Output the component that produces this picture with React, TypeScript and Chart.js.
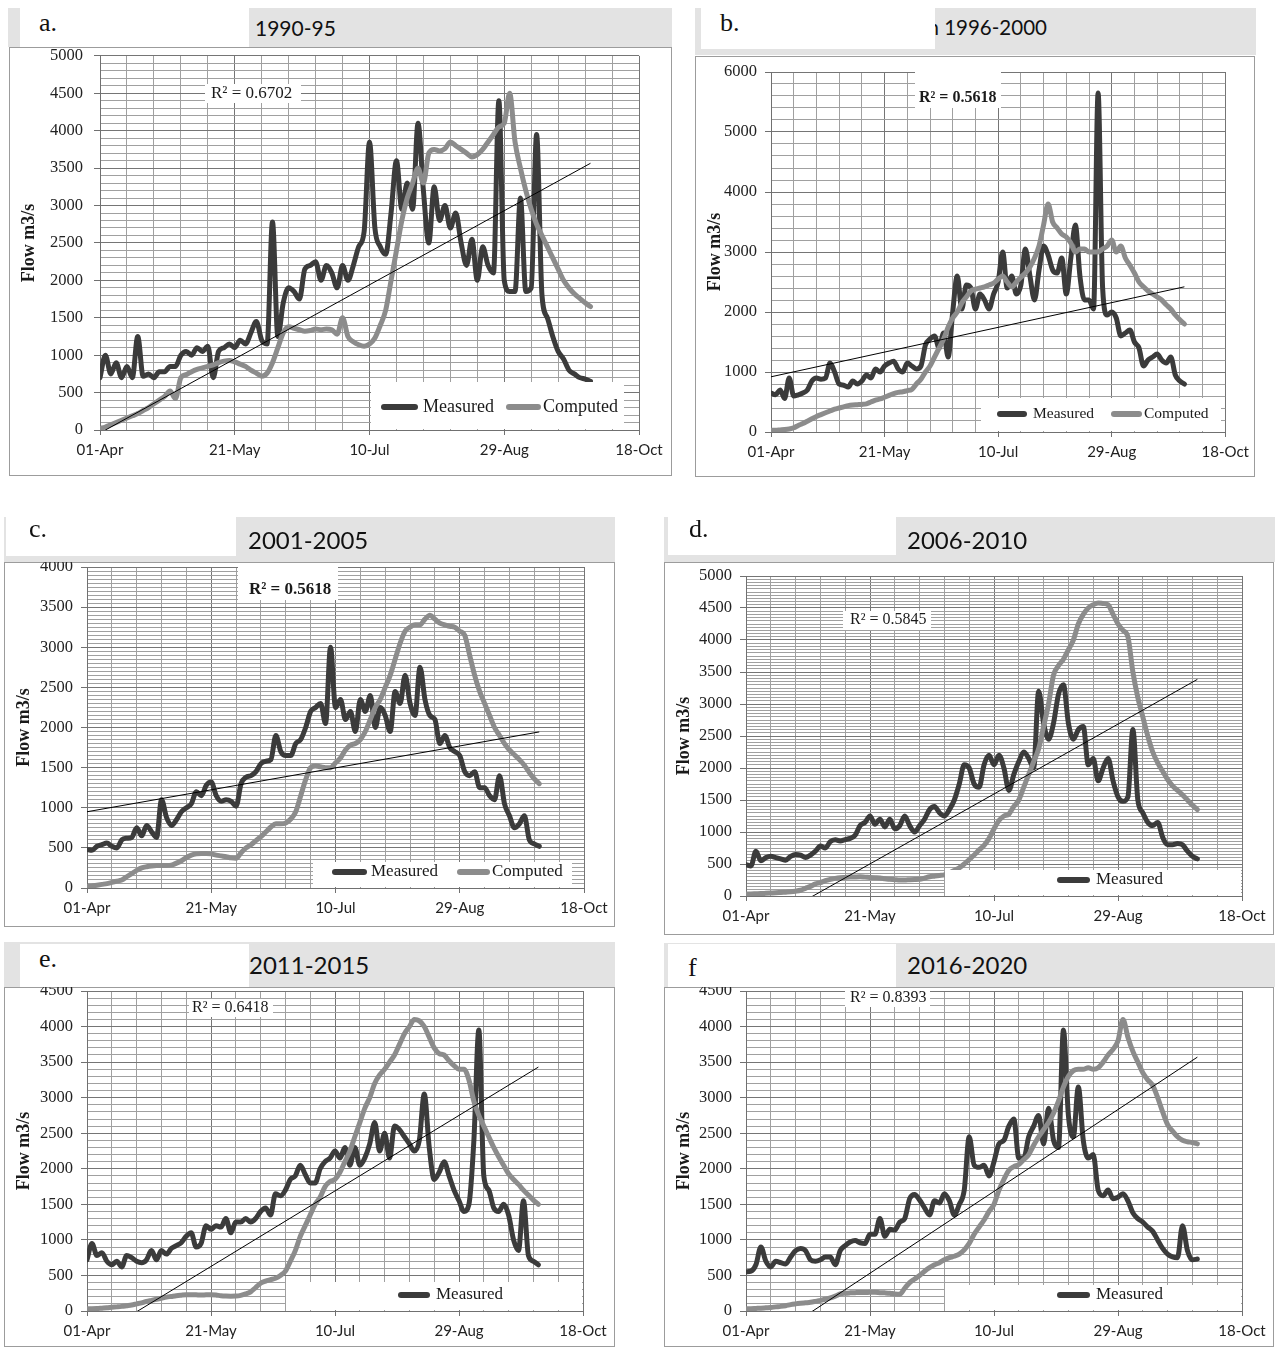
import React, { useEffect, useRef } from "react";
import { Chart, registerables } from "chart.js";

Chart.register(...registerables);

// ---------- data ----------
const DAYS = [
  0, 2, 4, 6, 8, 10, 12, 14, 16, 18,
  20, 22, 24, 26, 28, 30, 32, 34, 36, 38,
  40, 42, 44, 46, 48, 50, 52, 54, 56, 58,
  60, 62, 64, 66, 68, 70, 72, 74, 76, 78,
  80, 82, 84, 86, 88, 90, 92, 94, 96, 98,
  100, 102, 104, 106, 108, 110, 112, 114, 116, 118,
  120, 122, 124, 126, 128, 130, 132, 134, 136, 138,
  140, 142, 144, 146, 148, 150, 152, 154, 156, 158,
  160, 162, 164, 166, 168, 170, 172, 174, 176, 178,
  180, 182,
];
const X_TICK_DAYS = [0, 50, 100, 150, 200];
const X_TICK_LABELS = ["01-Apr", "21-May", "10-Jul", "29-Aug", "18-Oct"];
const TREND_DAYS = [0, 182];
const SERIES_NAMES = ["Measured", "Computed"];
const Y_TITLE = "Flow m3/s";

const MEASURED_A = [
  700, 1000, 750, 900, 700, 850, 700, 1250, 720, 750,
  700, 780, 780, 850, 850, 1000, 1050, 1000, 1100, 1050,
  1120, 700, 1050, 1100, 1150, 1100, 1200, 1150, 1300, 1450,
  1200, 1150, 2780, 1250, 1700, 1900, 1850, 1750, 2150, 2200,
  2250, 2000, 2200, 2100, 1900, 2200, 2000, 2200, 2450, 2650,
  3850, 2700, 2450, 2350, 2900, 3600, 2950, 3300, 2950, 4100,
  3200, 2500, 3250, 2800, 3000, 2700, 2900, 2500, 2200, 2550,
  2000, 2450, 2200, 2100, 4400, 2000, 1850, 1850, 3100, 1850,
  1900, 3950, 1800, 1500, 1250, 1050, 950, 800, 750, 700,
  680, 650,
];
const COMPUTED_A = [
  20, 40, 70, 100, 130, 160, 190, 220, 260, 300,
  350, 400, 450, 520, 420, 700, 740, 780, 810, 830,
  850, 870, 900, 920, 930, 910, 880, 850, 800, 760,
  720, 760, 900, 1100, 1300, 1380, 1360, 1340, 1320, 1330,
  1350, 1340, 1350, 1340, 1280, 1500, 1250, 1180, 1140, 1120,
  1150, 1230, 1400, 1600, 2000, 2400, 2800, 3100, 3300, 3500,
  3300, 3700, 3750, 3730, 3760, 3850, 3800, 3750, 3700, 3650,
  3680, 3750, 3850, 3950, 4050, 4100, 4500, 3850, 3500, 3200,
  2950, 2750, 2600, 2450, 2300, 2150, 2000, 1900, 1820, 1760,
  1700, 1650,
];
const TREND_A = [-40, 3565];

const MEASURED_B = [
  650, 620, 700, 560, 900, 600, 620, 650, 700, 850,
  900, 880, 900, 1150, 1000, 800, 780, 750, 850, 800,
  850, 950, 900, 1050, 1000, 1100, 1150, 1180, 1050, 1000,
  1150, 1100, 1050, 1100, 1450, 1550, 1600, 1400, 1650, 1250,
  2000, 2600, 2050, 2450, 2400, 2050, 2300, 2200, 2050, 2300,
  2500, 3000, 2400, 2600, 2300, 2450, 3050, 2600, 2200, 2700,
  3100, 2950, 2700, 2650, 2900, 2300, 2900, 3450, 2600, 2200,
  2200, 2050, 5650, 2400, 1950, 2000, 1900, 1600, 1650, 1700,
  1500, 1400, 1100, 1200, 1250, 1300, 1200, 1150, 1250, 950,
  850, 800,
];
const COMPUTED_B = [
  30, 30, 35, 40, 50, 70, 110, 140, 180, 220,
  260, 290, 320, 350, 380, 400, 420, 440, 450, 455,
  460, 470, 500, 530, 550, 580, 610, 640, 660, 670,
  690, 710, 800, 880, 1000, 1100, 1250, 1400, 1550, 1750,
  1900, 2000, 2150, 2250, 2350, 2380, 2400, 2420, 2450, 2480,
  2550, 2600, 2500, 2420, 2500, 2580, 2650, 2750, 2900, 3100,
  3450, 3800, 3500, 3400, 3300, 3250, 3150, 3000, 3050, 3050,
  3000, 3000, 3000, 3050, 3100, 3200, 3000, 3100, 2900, 2780,
  2650, 2500, 2420, 2350, 2300, 2250, 2200, 2120, 2050, 1950,
  1870, 1800,
];
const TREND_B = [920, 2420];

const MEASURED_C = [
  480, 470, 520, 540, 560, 520, 500, 600, 620, 630,
  750, 650, 780, 700, 630, 1100, 880, 780, 850, 950,
  1000, 1050, 1200, 1150, 1280, 1320, 1150, 1080, 1100, 1080,
  1020, 1300, 1380, 1400, 1450, 1550, 1580, 1600, 1900, 1700,
  1650, 1650, 1800, 1850, 2000, 2200, 2250, 2300, 2050, 3000,
  2250, 2350, 2100, 2200, 1950, 2350, 2200, 2400, 2000, 2250,
  2150, 1950, 2450, 2300, 2650, 2300, 2150, 2750, 2350, 2150,
  2100, 1800, 1900, 1750, 1700, 1650, 1450, 1400, 1450, 1250,
  1250, 1150, 1100, 1400, 1050, 900, 750, 800, 900, 600,
  550, 520,
];
const COMPUTED_C = [
  20, 25, 35, 45, 55, 70, 85, 100, 140, 180,
  220, 250, 265, 275, 280, 280, 280, 285, 310, 340,
  380, 410, 425, 430, 430, 425, 410, 400, 390, 375,
  370, 440, 500, 540, 590, 640, 700, 760, 800, 800,
  810, 860, 950, 1150, 1350, 1500, 1520, 1510, 1500, 1500,
  1560, 1620, 1720, 1780, 1800, 1850, 1950, 2100, 2250, 2350,
  2500, 2650, 2850, 3050, 3200, 3250, 3280, 3280, 3350, 3400,
  3350, 3300, 3280, 3260, 3250, 3200, 3150, 2900, 2650, 2450,
  2300, 2150, 2000, 1900, 1800, 1720, 1660, 1600, 1530, 1440,
  1360, 1300,
];
const TREND_C = [950, 1945];

const MEASURED_D = [
  490, 470, 700, 550, 600, 620, 600, 580, 560, 620,
  650, 640, 600, 640, 700, 780, 750, 850, 880, 860,
  880, 900, 950, 1100, 1150, 1250, 1120, 1200, 1080, 1200,
  1050, 1100, 1250, 1100, 1000, 1100, 1200, 1350, 1400, 1300,
  1250, 1350, 1500, 1750, 2050, 2000, 1750, 1700, 2050, 2200,
  2050, 2200, 2000, 1650, 1900, 2100, 2250, 2150, 2000, 3200,
  2700, 2450, 2700, 3150, 3300, 2700, 2450, 2600, 2650, 2050,
  2150, 1800, 2000, 2150, 1800, 1550, 1480, 1550, 2600, 1500,
  1300, 1150, 1100, 1150, 920, 800, 800, 820, 800, 700,
  620, 580,
];
const COMPUTED_D = [
  30, 32, 35, 38, 42, 46, 50, 55, 60, 65,
  75, 90, 120, 150, 190, 210, 240, 260, 275, 285,
  290, 295, 298, 300, 295, 290, 285, 280, 270, 260,
  255, 250, 250, 255, 258, 260, 280, 300, 310, 320,
  330, 360, 400, 440, 500, 570, 640, 720, 790, 900,
  1050, 1180, 1250, 1280, 1400, 1500, 1700, 1900, 2100, 2300,
  2650, 3000, 3450, 3600, 3700, 3850, 4000, 4250, 4400, 4500,
  4550, 4580, 4570, 4550, 4400, 4250, 4150, 4050, 3500, 3100,
  2800, 2500, 2250, 2080, 1950, 1820, 1720, 1650, 1580, 1500,
  1420, 1350,
];
const TREND_D = [-590, 3385];

const MEASURED_E = [
  720, 950, 780, 820, 700, 650, 700, 620, 780, 750,
  700, 680, 720, 850, 720, 850, 800, 880, 920, 960,
  1050, 1100, 900, 950, 1200, 1150, 1200, 1180, 1300, 1100,
  1250, 1250, 1300, 1250, 1300, 1400, 1450, 1350, 1650, 1620,
  1700, 1850, 1900, 2050, 1920, 1800, 1800, 2000, 2100, 2150,
  2250, 2150, 2300, 2050, 2300, 2050, 2150, 2350, 2650, 2250,
  2500, 2150, 2600, 2550, 2450, 2350, 2250, 2400, 3050, 2300,
  1850, 1950, 2100, 1900, 1700, 1550, 1400, 1500, 2400, 3950,
  1900, 1700, 1450, 1400, 1500, 1350, 1000, 850, 1550, 780,
  700, 650,
];
const COMPUTED_E = [
  30, 32, 35, 40, 45, 52, 58, 65, 75, 85,
  100, 115, 135, 150, 165, 180, 195, 205, 215, 222,
  228, 230, 228, 225, 228, 230, 225, 215, 210, 208,
  210, 220, 240, 270, 330, 390, 420, 440, 460, 500,
  560, 700, 850, 1050, 1200, 1350, 1500, 1600, 1750, 1820,
  1850, 1950, 2100, 2250, 2450, 2650, 2850, 3000, 3200, 3320,
  3400, 3500, 3600, 3750, 3900, 4000, 4100, 4080, 4000, 3850,
  3700, 3620, 3600, 3520, 3450, 3400, 3400, 3250, 2950, 2750,
  2600, 2450, 2300, 2170, 2050, 1930, 1850, 1780, 1700, 1630,
  1560, 1500,
];
const TREND_E = [-435, 3430];

const MEASURED_F = [
  550, 560, 650, 900, 700, 620, 700, 680, 660, 760,
  850, 880, 850, 720, 700, 720, 760, 760, 650, 850,
  920, 970, 990, 960, 950, 1080, 1080, 1300, 1050, 1150,
  1140, 1250, 1300, 1580, 1640, 1560, 1450, 1350, 1550, 1520,
  1650, 1550, 1350, 1500, 1700, 2450, 2050, 2020, 2050, 1900,
  2100, 2350, 2400, 2600, 2700, 2150, 2150, 2450, 2600, 2750,
  2350, 2850, 2400, 2300, 3950, 2750, 2450, 3150, 2400, 2150,
  2200, 1700, 1620, 1700, 1580, 1600, 1650, 1550, 1380, 1300,
  1250, 1180, 1120, 1000, 880, 800, 760, 750, 1200, 850,
  720, 730,
];
const COMPUTED_F = [
  30, 32, 36, 40, 45, 50, 58, 65, 75, 90,
  100, 108, 115, 122, 135, 150, 165, 185, 210, 240,
  250, 255, 258, 260, 260, 262, 262, 258, 255, 250,
  240, 235, 320, 400, 450, 500, 560, 610, 650, 680,
  720, 750, 770, 800, 860, 950, 1080, 1180, 1280, 1400,
  1500, 1700, 1850, 1980, 2030, 2060, 2130, 2200, 2330, 2450,
  2550, 2650, 2780, 2950, 3150, 3300, 3380, 3400, 3400, 3420,
  3400, 3420, 3500, 3600, 3680, 3800, 4100, 3850, 3650, 3500,
  3350, 3250, 3170, 3000, 2800, 2620, 2530, 2450, 2400, 2380,
  2370, 2350,
];
const TREND_F = [-620, 3570];

// ---------- styling ----------
const MEASURED_COLOR = "#3b3b3b";
const COMPUTED_COLOR = "#8c8c8c";
const GRID_MINOR = "#a0a0a0";
const GRID_MAJOR = "#757575";
const AXIS_COLOR = "#707070";
const BAR_COLOR = "#e3e3e3";
const TOP_PAD = 20;
const SERIF = "'Liberation Serif', 'Times New Roman', serif";
const SANS = "Lato, 'Open Sans', sans-serif";

const PANELS = [
  {
    key: "a", label: "a.", labelXY: [39, 10], title: "1990-95", titleXY: [255, 17], titleSize: 21,
    bar: [8, 8, 672, 47], white: [20, 8, 249, 47],
    border: [9, 47, 672, 476], plot: [100, 55, 639, 430], yPad: 11,
    yMax: 5000, yMinor: 100, yMajor: 500,
    measured: MEASURED_A, computed: COMPUTED_A, trend: TREND_A,
    r2: "R² = 0.6702", r2Bold: false, r2Box: [205, 84, 301, 103], r2Text: [211, 94], r2Size: 17,
    legendBox: [371, 382, 624, 429], legendY: 407, legendSize: 18,
    legendItems: [{ s: 0, sw: [381, 418], tx: 423 }, { s: 1, sw: [506, 541], tx: 543 }],
  },
  {
    key: "b", label: "b.", labelXY: [720, 10], title: "n 1996-2000", titleXY: [927.5, 17], titleSize: 20.5,
    bar: [695, 8, 1256, 55], white: [701, 8, 935, 49],
    border: [695, 56, 1255, 477], plot: [771, 72, 1227, 432], yPad: 8,
    yMax: 6000, yMinor: 200, yMajor: 1000,
    measured: MEASURED_B, computed: COMPUTED_B, trend: TREND_B,
    r2: "R² = 0.5618", r2Bold: true, r2Box: [915, 72, 1001, 108], r2Text: [919, 98], r2Size: 16,
    legendBox: [981, 398, 1221, 431], legendY: 414, legendSize: 15.5,
    legendItems: [{ s: 0, sw: [997, 1027], tx: 1033 }, { s: 1, sw: [1111, 1142], tx: 1144 }],
  },
  {
    key: "c", label: "c.", labelXY: [29, 516], title: "2001-2005", titleXY: [248, 528], titleSize: 24,
    bar: [4, 517, 615, 562], white: [6, 517, 236, 556],
    border: [4, 562, 615, 927], plot: [87, 567, 584, 888], yPad: 8,
    yMax: 4000, yMinor: 50, yMajor: 500,
    measured: MEASURED_C, computed: COMPUTED_C, trend: TREND_C,
    r2: "R² = 0.5618", r2Bold: true, r2Box: [238, 566, 338, 600], r2Text: [249, 590], r2Size: 17,
    legendBox: [313, 862, 572, 887], legendY: 872, legendSize: 17,
    legendItems: [{ s: 0, sw: [332, 367], tx: 371 }, { s: 1, sw: [457, 490], tx: 492 }],
  },
  {
    key: "d", label: "d.", labelXY: [689, 516], title: "2006-2010", titleXY: [907, 528], titleSize: 24,
    bar: [664, 517, 1275, 562], white: [668, 517, 896, 555],
    border: [664, 562, 1274, 935], plot: [746, 576, 1242, 896], yPad: 8,
    yMax: 5000, yMinor: 50, yMajor: 500,
    measured: MEASURED_D, computed: COMPUTED_D, trend: TREND_D,
    r2: "R² = 0.5845", r2Bold: false, r2Box: [843, 611, 931, 630], r2Text: [850, 620], r2Size: 16,
    legendBox: [945, 870, 1241, 895], legendY: 880, legendSize: 17,
    legendItems: [{ s: 0, sw: [1057, 1090], tx: 1096 }],
  },
  {
    key: "e", label: "e.", labelXY: [39, 946], title: "2011-2015", titleXY: [249, 953], titleSize: 24,
    bar: [4, 942, 615, 987], white: [20, 944, 249, 987],
    border: [4, 987, 615, 1347], plot: [87, 991, 583, 1311], yPad: 8,
    yMax: 4500, yMinor: 100, yMajor: 500,
    measured: MEASURED_E, computed: COMPUTED_E, trend: TREND_E,
    r2: "R² = 0.6418", r2Bold: false, r2Box: [189, 999, 273, 1017], r2Text: [192, 1008], r2Size: 16,
    legendBox: [286, 1282, 582, 1310], legendY: 1295, legendSize: 17,
    legendItems: [{ s: 0, sw: [398, 430], tx: 436 }],
  },
  {
    key: "f", label: "f", labelXY: [688, 955], title: "2016-2020", titleXY: [907, 953], titleSize: 24,
    bar: [664, 943, 1275, 987], white: [668, 944, 896, 987],
    border: [664, 987, 1274, 1347], plot: [746, 991, 1242, 1311], yPad: 8,
    yMax: 4500, yMinor: 100, yMajor: 500,
    measured: MEASURED_F, computed: COMPUTED_F, trend: TREND_F,
    r2: "R² = 0.8393", r2Bold: false, r2Box: [845, 991, 930, 1007], r2Text: [850, 998], r2Size: 16,
    legendBox: [945, 1285, 1241, 1310], legendY: 1295, legendSize: 17,
    legendItems: [{ s: 0, sw: [1057, 1090], tx: 1096 }],
  },
];

const SERIES_COLORS = [MEASURED_COLOR, COMPUTED_COLOR];

function makeOverlay(p: any, ox: number, oy: number) {
  return {
    id: "overlay_" + p.key,
    afterDatasetsDraw(chart: any) {
      const ctx = chart.ctx;
      ctx.save();
      const [rx1, ry1, rx2, ry2] = p.r2Box;
      ctx.fillStyle = "#ffffff";
      ctx.fillRect(rx1 - ox, ry1 - oy, rx2 - rx1, ry2 - ry1);
      ctx.fillStyle = "#1a1a1a";
      ctx.textBaseline = "middle";
      ctx.textAlign = "left";
      ctx.font = `${p.r2Bold ? "bold " : ""}${p.r2Size}px ${SERIF}`;
      ctx.fillText(p.r2, p.r2Text[0] - ox, p.r2Text[1] - oy);

      const [lx1, ly1, lx2, ly2] = p.legendBox;
      ctx.fillStyle = "#ffffff";
      ctx.fillRect(lx1 - ox, ly1 - oy, lx2 - lx1, ly2 - ly1);
      ctx.font = `${p.legendSize}px ${SERIF}`;
      p.legendItems.forEach((it: any) => {
        ctx.strokeStyle = SERIES_COLORS[it.s];
        ctx.lineWidth = 6;
        ctx.lineCap = "round";
        ctx.beginPath();
        ctx.moveTo(it.sw[0] + 3 - ox, p.legendY - oy);
        ctx.lineTo(it.sw[1] - 3 - ox, p.legendY - oy);
        ctx.stroke();
        ctx.fillStyle = "#1a1a1a";
        ctx.fillText(SERIES_NAMES[it.s], it.tx - ox, p.legendY - oy);
      });
      ctx.restore();
    },
  };
}

function PanelView({ p }: { p: any }) {
  const ref = useRef<HTMLCanvasElement | null>(null);
  const [bx1, by1, bx2, by2] = p.border;
  const [pl, pt, pr, pb] = p.plot;
  const ox = bx1;
  const oy = pt - TOP_PAD;
  const cw = bx2 - bx1;
  const ch = by2 - oy;

  useEffect(() => {
    if (!ref.current) return;
    const toPts = (vals: number[]) => vals.map((v, i) => ({ x: DAYS[i], y: v }));
    const isMajorX = (c: any) => c.tick && Math.round(c.tick.value) % 50 === 0;
    const isMajorY = (c: any) => c.tick && Math.round(c.tick.value) % p.yMajor === 0;
    const chart = new Chart(ref.current, {
      type: "line",
      data: {
        datasets: [
          {
            label: "Trend",
            data: TREND_DAYS.map((d, i) => ({ x: d, y: p.trend[i] })),
            borderColor: "#000000",
            borderWidth: 1,
            pointRadius: 0,
            tension: 0,
          },
          {
            label: SERIES_NAMES[1],
            data: toPts(p.computed),
            borderColor: COMPUTED_COLOR,
            borderWidth: 5,
            pointRadius: 0,
            tension: 0.3,
            cubicInterpolationMode: "monotone",
            borderCapStyle: "round",
            borderJoinStyle: "round",
          },
          {
            label: SERIES_NAMES[0],
            data: toPts(p.measured),
            borderColor: MEASURED_COLOR,
            borderWidth: 5,
            pointRadius: 0,
            tension: 0.3,
            cubicInterpolationMode: "monotone",
            borderCapStyle: "round",
            borderJoinStyle: "round",
          },
        ],
      },
      options: {
        responsive: false,
        maintainAspectRatio: false,
        animation: false,
        devicePixelRatio: 1,
        events: [],
        layout: { padding: { top: TOP_PAD, left: 0, right: bx2 - pr, bottom: 0 } },
        plugins: { legend: { display: false }, tooltip: { enabled: false }, title: { display: false } },
        elements: { point: { radius: 0 } },
        scales: {
          x: {
            type: "linear",
            min: 0,
            max: 200,
            afterFit: (s: any) => { s.height = by2 - pb; },
            grid: {
              color: (c: any) => (isMajorX(c) ? GRID_MAJOR : GRID_MINOR),
              lineWidth: 1,
              tickLength: 5,
              tickColor: (c: any) => (isMajorX(c) ? AXIS_COLOR : "rgba(0,0,0,0)"),
            },
            border: { color: AXIS_COLOR, width: 1 },
            ticks: {
              stepSize: 10,
              autoSkip: false,
              maxRotation: 0,
              minRotation: 0,
              padding: 6,
              color: "#222222",
              font: { family: SANS, size: 15 },
              callback: (v: any) => {
                const i = X_TICK_DAYS.indexOf(Math.round(Number(v)));
                return i >= 0 ? X_TICK_LABELS[i] : "";
              },
            },
          },
          y: {
            type: "linear",
            min: 0,
            max: p.yMax,
            afterFit: (s: any) => { s.width = pl - bx1; },
            grid: {
              color: (c: any) => (isMajorY(c) ? GRID_MAJOR : GRID_MINOR),
              lineWidth: 1,
              tickLength: 6,
              tickColor: (c: any) => (isMajorY(c) ? AXIS_COLOR : "rgba(0,0,0,0)"),
            },
            border: { color: AXIS_COLOR, width: 1 },
            ticks: {
              stepSize: p.yMinor,
              autoSkip: false,
              padding: p.yPad,
              color: "#222222",
              font: { family: SERIF, size: 16.5 },
              callback: (v: any) => (Math.round(Number(v)) % p.yMajor === 0 ? String(Math.round(Number(v))) : ""),
            },
            title: {
              display: true,
              text: Y_TITLE,
              color: "#1a1a1a",
              font: { family: SERIF, size: 18, weight: "bold" },
              padding: { top: 10, bottom: 0 },
            },
          },
        },
      },
      plugins: [makeOverlay(p, ox, oy)],
    } as any);
    return () => chart.destroy();
  }, []);

  const rect = (r: number[], extra: any) => ({
    position: "absolute" as const,
    left: r[0],
    top: r[1],
    width: r[2] - r[0],
    height: r[3] - r[1],
    ...extra,
  });

  return (
    <>
      <div style={rect(p.border, { border: "1px solid #9c9c9c", boxSizing: "border-box" })} />
      <canvas
        ref={ref}
        width={cw}
        height={ch}
        style={{ position: "absolute", left: ox, top: oy, width: cw, height: ch }}
      />
      <div style={rect(p.bar, { background: BAR_COLOR })} />
      <div
        style={{
          position: "absolute",
          left: p.titleXY[0],
          top: p.titleXY[1],
          fontFamily: SANS,
          fontSize: p.titleSize,
          lineHeight: `${p.titleSize}px`,
          whiteSpace: "nowrap",
          color: "#111111",
        }}
      >
        {p.title}
      </div>
      <div style={rect(p.white, { background: "#ffffff" })} />
      <div
        style={{
          position: "absolute",
          left: p.labelXY[0],
          top: p.labelXY[1],
          fontFamily: SERIF,
          fontSize: 26,
          lineHeight: "26px",
          whiteSpace: "nowrap",
          color: "#111111",
        }}
      >
        {p.label}
      </div>
    </>
  );
}

export default function App() {
  return (
    <div
      style={{
        position: "absolute",
        left: 0,
        top: 0,
        width: 1275,
        height: 1349,
        background: "#ffffff",
        overflow: "hidden",
      }}
    >
      {PANELS.map((p) => (
        <PanelView key={p.key} p={p} />
      ))}
    </div>
  );
}
